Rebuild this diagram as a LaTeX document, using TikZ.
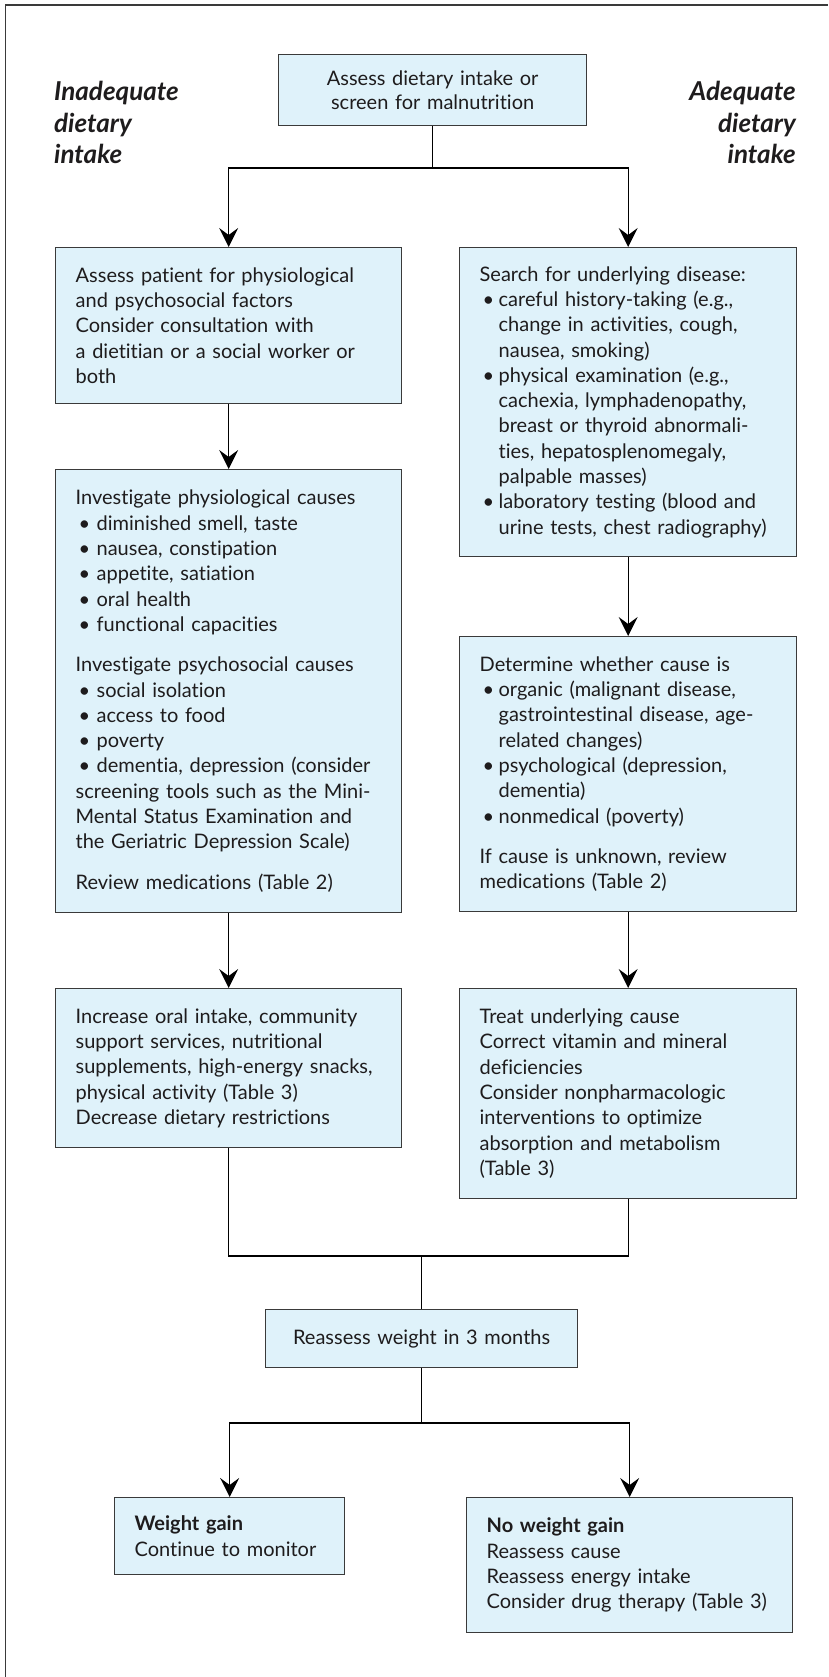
\documentclass[tikz,border=0pt]{standalone}
\usepackage{fontspec}
\setmainfont{Lato}[Ligatures=NoCommon]
\usetikzlibrary{arrows.meta}
\definecolor{boxfill}{HTML}{DFF2FA}
\definecolor{boxline}{HTML}{3A3A3A}
\definecolor{txt}{HTML}{1E1C1D}
\newcommand{\bulL}{\makebox[21pt][l]{\hspace{3pt}•}}
\newcommand{\bulR}{\makebox[19pt][l]{\hspace{3pt}•}}
\newcommand{\indR}{\hspace*{19pt}}
\begin{document}
\begin{tikzpicture}[x=1pt,y=-1pt,
  box/.style={draw=boxline, fill=boxfill, line width=1.3pt, inner xsep=20pt, inner ysep=0pt,
    text=txt, font=\fontsize{20}{25.3}\selectfont, anchor=north west, align=left},
  cbox/.style={box, align=center},
  arr/.style={-{Stealth[length=19pt,width=19pt,inset=7pt]}},
  conn/.style={draw=black, line width=1.2pt},
  head/.style={font=\fontsize{26}{31.5}\selectfont\bfseries\itshape, text=txt, inner sep=0pt}]
\useasboundingbox (0,0) rectangle (828,1677);
% frame (top and left edges)
\draw[draw=boxline, line width=1.6pt] (5.5,1677) -- (5.5,5) -- (828,5);

% headings
\node[head, anchor=north west, align=left] (hl) at (54,81) {Inadequate\\dietary\\intake};
\node[head, anchor=north east, align=right] (hr) at (796,81) {Adequate\\dietary\\intake};

% boxes
\node[cbox, text width=268pt, minimum height=71pt] (a0) at (278,54)
  {Assess dietary intake or\\[-1.5pt]screen for malnutrition};

\node[box, text width=306pt, minimum height=156pt] (L1) at (55,247)
  {Assess patient for physiological\\
   and psychosocial factors\\
   Consider consultation with\\
   a dietitian or a social worker or\\
   both};

\node[box, text width=297pt, minimum height=309pt] (R1) at (459,247)
  {Search for underlying disease:\\
   \bulR careful history-taking (e.g.,\\
   \indR change in activities, cough,\\
   \indR nausea, smoking)\\
   \bulR physical examination (e.g.,\\
   \indR cachexia, lymphadenopathy,\\
   \indR breast or thyroid abnormali-\\
   \indR ties, hepatosplenomegaly,\\
   \indR palpable masses)\\
   \bulR laboratory testing (blood and\\
   \indR urine tests, chest radiography)};

\node[box, text width=306pt, minimum height=443pt] (L2) at (55,469)
  {Investigate physiological causes\\
   \bulL diminished smell, taste\\
   \bulL nausea, constipation\\
   \bulL appetite, satiation\\
   \bulL oral health\\
   \bulL functional capacities\\[15pt]
   Investigate psychosocial causes\\
   \bulL social isolation\\
   \bulL access to food\\
   \bulL poverty\\
   \bulL dementia, depression (consider\\
   screening tools such as the Mini-\\
   Mental Status Examination and\\
   the Geriatric Depression Scale)\\[15pt]
   Review medications (Table 2)};

\node[box, text width=297pt, minimum height=275pt] (R2) at (459,636)
  {Determine whether cause is\\
   \bulR organic (malignant disease,\\
   \indR gastrointestinal disease, age-\\
   \indR related changes)\\
   \bulR psychological (depression,\\
   \indR dementia)\\
   \bulR nonmedical (poverty)\\[15pt]
   If cause is unknown, review\\
   medications (Table 2)};

\node[box, text width=306pt, minimum height=159pt] (L3) at (55,988)
  {Increase oral intake, community\\
   support services, nutritional\\
   supplements, high-energy snacks,\\
   physical activity (Table 3)\\
   Decrease dietary restrictions};

\node[box, text width=297pt, minimum height=210pt] (R3) at (459,988)
  {Treat underlying cause\\
   Correct vitamin and mineral\\
   deficiencies\\
   Consider nonpharmacologic\\
   interventions to optimize\\
   absorption and metabolism\\
   (Table 3)};

\node[cbox, text width=272pt, minimum height=58pt] (RW) at (265,1309)
  {Reassess weight in 3 months};

\node[box, text width=190pt, minimum height=77pt] (WG) at (114,1497)
  {\textbf{Weight gain}\\
   Continue to monitor};

\node[box, text width=286pt, minimum height=135pt] (NWG) at (466,1497)
  {\textbf{No weight gain}\\
   Reassess cause\\
   Reassess energy intake\\
   Consider drug therapy (Table 3)};

% connectors
\coordinate (s1) at (a0.south |- 0,168);
\draw[conn] (a0.south) -- (s1);
\draw[conn, arr] (s1) -| (L1.north);
\draw[conn, arr] (s1) -| (R1.north);
\draw[conn, arr] (L1.south) -- (L2.north);
\draw[conn, arr] (R1.south) -- (R2.north);
\draw[conn, arr] (L2.south) -- (L3.north);
\draw[conn, arr] (R2.south) -- (R3.north);
\coordinate (m) at (RW.north |- 0,1256);
\draw[conn] (L3.south) |- (m);
\draw[conn] (R3.south) |- (m);
\draw[conn] (m) -- (RW.north);
\coordinate (b) at (RW.south |- 0,1423);
\draw[conn] (RW.south) -- (b);
\draw[conn, arr] (b) -| (WG.north);
\draw[conn, arr] (b) -| (NWG.north);
\end{tikzpicture}
\end{document}
